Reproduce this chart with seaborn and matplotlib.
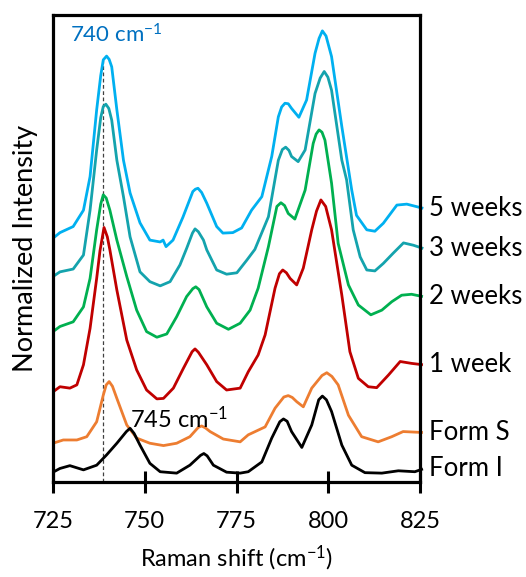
import numpy as np
import pandas as pd
import matplotlib
matplotlib.use("Agg")
import matplotlib.pyplot as plt
import matplotlib.transforms as mtransforms
import seaborn as sns

# ---------------- data (Raman shift in cm-1, normalized intensity, offset stacked) -------------
x_5w = [725.0, 726.9, 730.5, 733.3, 735.1, 736.9, 738.0, 738.7, 739.6, 740.3, 741.0, 742.4, 744.2,
        746.0, 748.7, 751.4, 754.2, 755.0, 755.8, 757.7, 760.4, 763.1, 763.8, 764.5, 765.5, 766.9,
        769.6, 771.3, 774.0, 776.4, 779.1, 781.9, 784.6, 786.4, 787.3, 788.2, 789.1, 790.0, 792.0,
        794.1, 796.4, 797.5, 798.4, 799.4, 800.9, 803.7, 806.4, 807.7, 810.5, 812.7, 815.0, 818.7,
        821.4, 825.9]
y_5w = [52.2, 53.4, 54.7, 58.2, 65.4, 79.7, 87.0, 90.4, 91.2, 90.5, 88.9, 79.7, 68.9,
        61.9, 55.5, 51.8, 51.4, 51.8, 50.4, 51.8, 56.7, 62.2, 62.7, 62.9, 62.0, 59.7,
        54.7, 53.3, 53.4, 54.4, 58.2, 61.1, 69.7, 78.2, 80.3, 81.1, 81.0, 80.0, 78.1,
        81.8, 91.8, 95.0, 96.6, 95.5, 91.1, 76.1, 62.5, 57.1, 54.0, 53.7, 55.4, 59.3,
        59.5, 58.6]

x_3w = [725.0, 726.9, 730.5, 733.3, 735.1, 736.9, 738.0, 738.7, 739.4, 740.2, 741.0, 742.4, 744.2,
        746.0, 748.7, 751.4, 754.2, 756.9, 759.6, 761.4, 763.0, 763.7, 764.6, 766.0, 766.9, 769.6,
        772.3, 775.1, 777.8, 780.0, 783.7, 786.4, 787.5, 788.4, 789.3, 790.0, 791.8, 793.7, 796.4,
        797.8, 798.9, 799.9, 800.9, 803.7, 805.0, 806.8, 808.7, 810.5, 812.7, 815.0, 817.7, 820.5,
        823.2, 825.9]
y_3w = [44.0, 45.0, 45.6, 48.6, 58.2, 71.1, 78.0, 80.4, 80.9, 80.0, 77.5, 68.9, 61.1,
        52.5, 45.0, 42.9, 42.0, 42.9, 46.5, 50.0, 53.3, 54.2, 53.6, 51.8, 49.7, 45.4,
        44.5, 44.8, 47.5, 49.8, 56.8, 68.9, 71.2, 71.7, 71.0, 69.7, 68.6, 71.1, 83.2,
        86.5, 87.9, 86.7, 83.9, 68.9, 64.7, 54.0, 48.2, 45.4, 45.2, 46.8, 49.0, 51.2,
        50.7, 50.0]

x_2w = [725.0, 726.9, 730.5, 733.3, 735.1, 736.9, 738.0, 738.7, 739.5, 740.5, 742.4, 745.1, 747.8,
        750.5, 753.3, 756.0, 758.7, 761.4, 763.1, 763.9, 764.8, 766.9, 769.6, 772.8, 776.0, 778.7,
        780.9, 783.7, 786.0, 787.1, 788.1, 789.1, 790.9, 793.7, 795.9, 796.7, 797.5, 798.3, 799.1,
        800.9, 802.7, 805.5, 808.2, 811.6, 814.6, 817.3, 820.0, 822.7, 825.8]
y_2w = [32.2, 33.3, 34.3, 37.5, 43.6, 54.0, 59.5, 61.5, 60.8, 58.2, 51.8, 44.0, 36.8,
        32.2, 31.0, 31.7, 35.4, 39.7, 41.4, 41.8, 41.2, 37.5, 34.0, 32.7, 34.0, 36.8,
        41.5, 50.4, 59.0, 59.8, 59.2, 57.5, 56.3, 62.5, 72.5, 74.5, 75.4, 74.9, 73.2,
        64.0, 51.1, 42.2, 37.9, 35.8, 36.8, 38.6, 40.0, 40.2, 39.7]

x_1w = [725.0, 726.9, 729.6, 731.5, 733.3, 735.1, 736.9, 737.8, 738.9, 739.8, 740.5, 742.4, 745.1,
        747.8, 750.5, 753.3, 755.1, 757.8, 760.5, 762.9, 763.7, 764.6, 766.9, 769.6, 772.3, 776.0,
        778.2, 780.9, 782.8, 785.5, 786.7, 787.6, 788.6, 789.6, 791.4, 793.2, 795.5, 796.8, 798.0,
        799.3, 800.9, 803.7, 805.9, 808.2, 810.9, 813.2, 816.4, 819.6, 822.7, 825.8]
y_1w = [19.3, 20.4, 20.1, 20.8, 25.1, 32.9, 43.6, 49.5, 54.5, 52.5, 49.7, 41.1, 30.4,
        24.0, 19.7, 17.8, 17.9, 20.1, 24.3, 27.9, 28.5, 27.8, 25.1, 21.5, 19.7, 20.1,
        23.6, 27.2, 31.5, 41.5, 44.6, 45.4, 44.8, 43.6, 42.2, 45.8, 54.0, 58.0, 60.4,
        59.0, 54.0, 40.0, 27.9, 22.2, 20.4, 20.2, 22.9, 25.8, 25.4, 25.1]

x_formS = [725.0, 727.8, 731.5, 734.2, 736.9, 738.7, 739.5, 740.3, 741.2, 742.4, 745.1, 747.8,
           751.4, 755.1, 758.7, 762.3, 764.6, 765.5, 766.5, 767.8, 771.4, 776.0, 778.2, 782.8,
           785.5, 787.9, 789.1, 790.2, 791.4, 793.2, 795.5, 798.3, 799.6, 801.0, 802.7, 805.5,
           809.1, 813.6, 817.3, 820.4, 825.8]
y_formS = [8.3, 9.0, 9.0, 9.7, 12.9, 18.6, 20.8, 21.5, 20.5, 17.9, 12.2, 9.4,
           8.3, 7.8, 8.3, 9.7, 11.7, 12.0, 11.6, 10.8, 9.2, 8.6, 10.1, 11.8,
           15.8, 18.2, 18.5, 18.1, 17.2, 16.1, 20.1, 22.8, 23.4, 22.6, 20.8, 14.3,
           9.7, 8.6, 9.7, 10.8, 10.6]

x_formI = [725.0, 726.9, 729.6, 733.3, 736.9, 739.6, 742.4, 745.0, 746.0, 747.1, 748.7, 751.4,
           754.2, 758.7, 762.3, 765.2, 766.1, 767.0, 768.7, 772.3, 776.0, 778.2, 781.9, 784.6,
           786.8, 787.8, 788.8, 790.0, 792.8, 795.5, 797.4, 798.4, 799.5, 800.9, 803.7, 806.4,
           810.0, 814.6, 819.1, 823.6, 825.8]
y_formI = [2.1, 2.9, 3.5, 2.6, 3.6, 5.8, 8.3, 10.8, 11.5, 10.4, 7.9, 4.0,
           2.2, 1.9, 3.6, 5.7, 6.1, 5.6, 3.6, 2.1, 1.9, 2.2, 4.3, 9.4,
           12.9, 13.5, 13.0, 10.8, 7.4, 12.2, 17.6, 18.4, 17.6, 15.1, 7.9, 3.6,
           2.0, 1.9, 2.4, 2.2, 2.8]

series_names = ["5 weeks", "3 weeks", "2 weeks", "1 week", "Form S", "Form I"]
series_x = [x_5w, x_3w, x_2w, x_1w, x_formS, x_formI]
series_y = [y_5w, y_3w, y_2w, y_1w, y_formS, y_formI]
colors = ["#00B0F0", "#14A3AD", "#00B050", "#C00000", "#ED7D31", "#000000"]

x_ticks = [725, 750, 775, 800, 825]
marker_740_x = 738.7
marker_740_top = 90.4

# ---------------- build long table ----------------
frames = []
for name, xs, ys in zip(series_names, series_x, series_y):
    frames.append(pd.DataFrame({"shift": xs, "intensity": ys, "sample": name}))
df = pd.concat(frames, ignore_index=True)

sns.set_theme(style="white")
plt.rcParams["font.family"] = ["Lato", "DejaVu Sans"]
plt.rcParams["mathtext.fontset"] = "custom"
plt.rcParams["mathtext.rm"] = "Lato"
plt.rcParams["mathtext.default"] = "regular"

fig = plt.figure(figsize=(5.26, 5.77), dpi=100)
ax = fig.add_axes([53 / 526, 1 - 482 / 577, 367 / 526, 467 / 577])

sns.lineplot(data=df, x="shift", y="intensity", hue="sample", hue_order=series_names,
             palette=colors, estimator=None, sort=False, linewidth=2.0, legend=False, ax=ax)
for line in ax.get_lines():
    line.set_clip_on(False)
    line.set_solid_capstyle("butt")
    line.set_solid_joinstyle("round")

# dashed marker line at the 740 cm-1 band
ax.plot([marker_740_x, marker_740_x], [0, marker_740_top], linestyle=(0, (3, 2)),
        color="#404040", linewidth=0.9, zorder=1)

ax.set_xlim(725, 825)
ax.set_ylim(0, 100)
ax.set_xticks(x_ticks)
ax.set_xticklabels([str(t) for t in x_ticks])
ax.set_yticks([])
ax.tick_params(axis="x", direction="inout", length=16, width=2.2, labelsize=17, pad=13,
               colors="black", bottom=True)
for sp in ax.spines.values():
    sp.set_linewidth(2.3)
    sp.set_color("black")

ax.set_xlabel("Raman shift (cm$^{-1}$)", fontsize=17, labelpad=8, color="black")
ax.set_ylabel("Normalized Intensity", fontsize=19.5, labelpad=11, color="black")

# right-hand series labels
trans = mtransforms.blended_transform_factory(ax.transAxes, ax.transData)
for name, ys in zip(series_names, series_y):
    ax.text(1.024, ys[-1], name, transform=trans, fontsize=18.5, va="center", ha="left",
            color="black")

ax.text(729.6, 95.8, "740 cm$^{-1}$", fontsize=16, color="#0070C0", va="center", ha="left")
ax.text(746.0, 13.5, "745 cm$^{-1}$", fontsize=17, color="black", va="center", ha="left")

fig.savefig("out.png", dpi=100)
